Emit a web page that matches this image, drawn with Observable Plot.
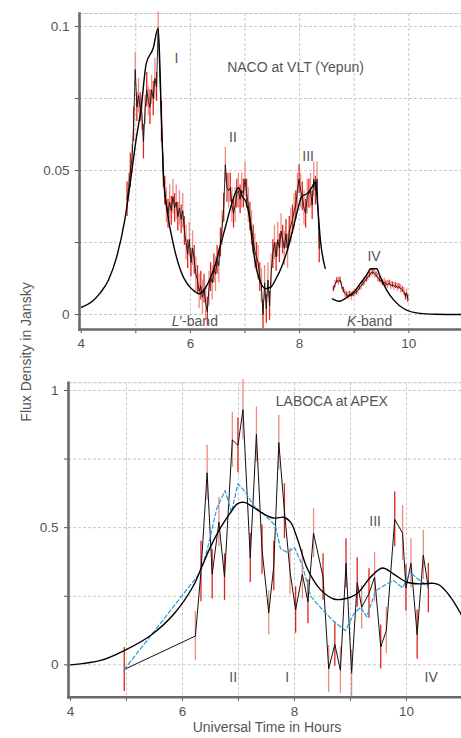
<!DOCTYPE html>
<html><head><meta charset="utf-8">
<script src="https://cdn.jsdelivr.net/npm/d3@7"></script>
<script src="https://cdn.jsdelivr.net/npm/@observablehq/plot@0.6"></script>
<style>
body{margin:0;background:#fff;}
#wrap{position:relative;width:461px;height:738px;overflow:hidden;font-family:"Liberation Sans",Arial,sans-serif;}
#top{position:absolute;left:0;top:0;}
#bot{position:absolute;left:0;top:360px;}
#ylab{position:absolute;left:26px;top:352px;transform:translate(-50%,-50%) rotate(-90deg);font-size:14px;color:#555;white-space:nowrap;}
</style></head><body>
<div id="wrap"><div id="top"></div><div id="bot"></div><div id="ylab">Flux Density in Jansky</div></div>
<script>
// ---------- NACO (top) L'-band data ----------
const naLTime = [4.84,4.87,4.90,4.93,4.96,4.99,5.02,5.05,5.08,5.11,
 5.14,5.17,5.20,5.23,5.26,5.29,5.32,5.35,5.38,5.41,
 5.47,5.50,5.53,5.56,5.59,5.62,5.65,5.68,5.71,5.74,
 5.77,5.80,5.83,5.86,5.89,5.92,5.95,5.98,6.01,6.04,
 6.07,6.10,6.13,6.16,6.19,6.22,6.25,6.28,6.31,6.34,
 6.37,6.40,6.43,6.46,6.49,6.52,6.55,6.58,6.61,6.64,
 6.67,6.70,6.73,6.76,6.79,6.82,6.85,6.88,6.91,6.94,
 6.97,7.00,7.03,7.06,7.09,7.12,7.15,7.18,7.21,7.24,
 7.27,7.30,7.33,7.36,7.39,7.42,7.45,7.48,7.51,7.54,
 7.57,7.60,7.63,7.66,7.69,7.72,7.75,7.78,7.81,7.84,
 7.87,7.90,7.93,7.96,7.99,8.02,8.05,8.08,8.11,8.14,
 8.17,8.20,8.23,8.26,8.29,8.32,8.36];
const naLFlux = [0.040,0.044,0.050,0.054,0.066,0.085,0.072,0.076,0.072,0.070,
 0.060,0.071,0.078,0.074,0.072,0.078,0.075,0.082,0.079,0.099,
 0.067,0.050,0.043,0.038,0.035,0.039,0.036,0.041,0.037,0.039,
 0.034,0.037,0.033,0.036,0.029,0.025,0.021,0.026,0.018,0.023,
 0.019,0.014,0.012,0.008,0.010,0.006,0.009,0.004,0.001,0.009,
 0.013,0.011,0.016,0.014,0.019,0.017,0.025,0.030,0.037,0.052,
 0.044,0.043,0.044,0.038,0.035,0.038,0.042,0.043,0.040,0.043,
 0.042,0.047,0.042,0.038,0.034,0.030,0.026,0.022,0.020,0.018,
 0.013,0.010,0.000,0.011,0.002,0.012,0.003,0.015,0.021,0.025,
 0.020,0.026,0.023,0.029,0.026,0.023,0.028,0.022,0.029,0.031,
 0.033,0.036,0.038,0.043,0.047,0.043,0.041,0.037,0.035,0.041,
 0.042,0.043,0.038,0.047,0.043,0.047,0.023];
const naLErr = [0.006,0.005,0.006,0.005,0.006,0.006,0.005,0.006,0.005,0.006,
 0.006,0.005,0.006,0.005,0.006,0.005,0.006,0.007,0.005,0.006,
 0.007,0.006,0.005,0.006,0.005,0.006,0.005,0.006,0.005,0.006,
 0.005,0.006,0.005,0.006,0.005,0.006,0.005,0.006,0.005,0.006,
 0.005,0.006,0.005,0.006,0.005,0.006,0.005,0.006,0.005,0.006,
 0.005,0.006,0.005,0.006,0.005,0.006,0.005,0.006,0.005,0.006,
 0.005,0.006,0.005,0.006,0.005,0.006,0.005,0.006,0.005,0.006,
 0.005,0.006,0.005,0.006,0.005,0.006,0.005,0.006,0.005,0.006,
 0.005,0.006,0.005,0.006,0.005,0.006,0.005,0.006,0.005,0.006,
 0.005,0.006,0.005,0.006,0.005,0.006,0.005,0.006,0.005,0.006,
 0.005,0.006,0.005,0.006,0.005,0.006,0.005,0.006,0.005,0.006,
 0.005,0.006,0.005,0.006,0.005,0.006,0.005];

// ---------- NACO (top) K-band data ----------
const naKTime = [8.62,8.65,8.68,8.71,8.74,8.77,8.80,8.83,8.86,8.89,
 8.92,8.95,8.98,9.01,9.04,9.07,9.10,9.13,9.16,9.19,
 9.22,9.25,9.28,9.31,9.34,9.37,9.40,9.43,9.46,9.49,
 9.52,9.55,9.58,9.61,9.64,9.67,9.70,9.73,9.76,9.79,
 9.82,9.85,9.88,9.91,9.94,9.96,9.98];
const naKFlux = [0.0089,0.0105,0.0118,0.0115,0.0120,0.0100,0.0085,0.0074,0.0068,0.0066,
 0.0070,0.0064,0.0072,0.0075,0.0078,0.0085,0.0094,0.0100,0.0108,0.0116,
 0.0122,0.0130,0.0137,0.0145,0.0147,0.0143,0.0138,0.0128,0.0121,0.0117,
 0.0110,0.0112,0.0106,0.0104,0.0109,0.0101,0.0103,0.0098,0.0100,0.0094,
 0.0097,0.0090,0.0086,0.0080,0.0062,0.0075,0.0055];
const naKErr = [0.0010,0.0014,0.0010,0.0014,0.0010,0.0014,0.0010,0.0014,0.0010,0.0014,
 0.0010,0.0014,0.0010,0.0014,0.0010,0.0014,0.0010,0.0014,0.0010,0.0014,
 0.0010,0.0014,0.0010,0.0014,0.0010,0.0014,0.0010,0.0014,0.0010,0.0014,
 0.0010,0.0014,0.0010,0.0014,0.0010,0.0014,0.0010,0.0014,0.0010,0.0014,
 0.0010,0.0014,0.0010,0.0014,0.0012,0.0014,0.0012];

// ---------- NACO model curves ----------
const naModelLTime = [4.00,4.20,4.35,4.50,4.65,4.80,4.90,5.00,5.10,5.19,5.32,5.41,5.47,5.51,5.575,5.70,5.82,5.94,6.06,6.15,6.25,6.35,6.45,6.55,6.65,6.75,6.82,6.88,6.95,7.02,7.08,7.14,7.22,7.30,7.38,7.47,7.57,7.67,7.77,7.87,7.96,8.04,8.14,8.22,8.29,8.33,8.38,8.47];
const naModelLFlux = [0.0025,0.0045,0.0075,0.0120,0.0200,0.0330,0.0460,0.0600,0.0720,0.0870,0.0925,0.0995,0.0680,0.0470,0.0360,0.0234,0.0153,0.0107,0.0083,0.0072,0.0085,0.0120,0.0170,0.0240,0.0310,0.0380,0.0420,0.0440,0.0410,0.0390,0.0340,0.0240,0.0150,0.0105,0.0090,0.0095,0.0125,0.0165,0.0220,0.0290,0.0360,0.0410,0.0420,0.0440,0.0460,0.0380,0.0260,0.0160];
const naModelKTime = [8.60,8.72,8.87,8.99,9.11,9.24,9.30,9.41,9.48,9.60,9.73,9.91,10.20,10.50,11.00];
const naModelKFlux = [0.0054,0.0046,0.0060,0.0077,0.0107,0.0141,0.0159,0.0159,0.0130,0.0083,0.0049,0.0020,0.0004,0.0001,0.0000];

// ---------- LABOCA (bottom) data ----------
const laTime = [4.96,6.23,6.33,6.44,6.53,6.65,6.75,6.89,6.99,7.08,7.21,7.32,7.42,7.54,7.63,7.72,7.82,7.92,8.02,8.14,8.24,8.34,8.51,8.61,8.72,8.82,8.92,9.02,9.12,9.20,9.33,9.43,9.54,9.64,9.79,9.93,9.99,10.08,10.19,10.30,10.39];
const laFlux = [-0.017,0.105,0.34,0.70,0.33,0.52,0.32,0.82,0.80,0.93,0.39,0.84,0.42,0.19,0.36,0.81,0.56,0.34,0.20,0.33,0.23,0.48,0.32,-0.015,0.075,-0.02,0.37,-0.03,0.30,0.21,0.26,0.32,0.065,0.125,0.53,0.48,0.28,0.37,0.11,0.40,0.28];
const laErr = [0.08,0.09,0.11,0.10,0.09,0.09,0.085,0.10,0.10,0.11,0.09,0.10,0.09,0.08,0.09,0.10,0.10,0.085,0.085,0.09,0.08,0.09,0.085,0.085,0.08,0.085,0.09,0.085,0.09,0.08,0.09,0.09,0.08,0.085,0.10,0.10,0.085,0.09,0.09,0.09,0.09];
const laSmoothTime = [4.96,6.33,6.46,6.61,6.76,6.875,6.99,7.125,7.27,7.42,7.54,7.66,7.75,7.87,8.00,8.14,8.29,8.51,8.69,8.91,9.06,9.18,9.29,9.45,9.65,9.77,9.93,10.06,10.16,10.39];
const laSmoothFlux = [-0.017,0.34,0.435,0.568,0.635,0.556,0.66,0.629,0.58,0.556,0.532,0.507,0.423,0.41,0.428,0.362,0.25,0.198,0.161,0.125,0.186,0.21,0.175,0.27,0.295,0.307,0.28,0.34,0.32,0.285];
const laModelTime = [4.00,4.54,4.96,5.43,5.85,6.20,6.35,6.50,6.68,6.86,6.98,7.10,7.27,7.45,7.63,7.81,7.93,8.05,8.23,8.46,8.70,8.88,9.12,9.36,9.57,9.77,10.01,10.25,10.49,10.60,10.79,11.00];
const laModelFlux = [0.000,0.016,0.052,0.107,0.186,0.290,0.360,0.430,0.500,0.556,0.587,0.592,0.574,0.550,0.535,0.538,0.520,0.460,0.350,0.275,0.240,0.240,0.260,0.320,0.353,0.331,0.301,0.295,0.297,0.289,0.246,0.175];

// ---------- ticks & labels ----------
const xTicks = [4,5,6,7,8,9,10];
const xTickLabels = ["4","","6","","8","","10"];
const xGrid = [5,6,7,8,9,10];
const topYTicks = [0,0.025,0.05,0.075,0.1];
const topYTickLabels = ["0","","0.05","","0.1"];
const botYTicks = [0,0.25,0.5,0.75,1];
const botYTickLabels = ["0","","0.5","","1"];
const topNotes = [
  {x:5.745,y:0.0889,text:"I"},
  {x:7.925,y:0.0858,text:"NACO at VLT (Yepun)"},
  {x:6.78,y:0.0613,text:"II"},
  {x:8.157,y:0.0547,text:"III"},
  {x:9.363,y:0.0201,text:"IV"}
];
const topBands = [
  {x:5.80,y:-0.0023,ital:"L",rest:"\u2032-band"},
  {x:9.04,y:-0.0023,ital:"K",rest:"-band"}
];
const botNotes = [
  {x:8.666,y:0.958,text:"LABOCA at APEX"},
  {x:9.44,y:0.521,text:"III"},
  {x:6.905,y:-0.047,text:"II"},
  {x:7.87,y:-0.047,text:"I"},
  {x:10.44,y:-0.047,text:"IV"}
];
const xTitle = "Universal Time in Hours";

// ---------- helpers ----------
const rows = (t,f,e,g) => t.map((x,i)=>({t:x,v:f[i],lo:f[i]-e[i],hi:f[i]+e[i],k:i%2,g}));
const pts = (t,f,g) => t.map((x,i)=>({t:x,v:f[i],g}));
const RED = "#e3241b", PINK = "#ef8a81", GRID = "#c8c8c8", AX = "#6a6a6a", TXT = "#555";
const fmt = (ticks, labels) => d => { const i = ticks.findIndex(v => Math.abs(v-d) < 1e-9); return i < 0 ? "" : labels[i]; };
const errMarks = data => [
  Plot.ruleX(data, {filter:d=>d.k===0, x:"t", y1:"lo", y2:"hi", stroke:RED, strokeWidth:1.3}),
  Plot.ruleX(data, {filter:d=>d.k===1, x:"t", y1:"lo", y2:"hi", stroke:PINK, strokeWidth:1.3})
];
const style = {fontFamily:'"Liberation Sans", Arial, sans-serif', fontSize:"13.5px", color:TXT, background:"white", overflow:"visible"};

// ---------- top panel ----------
const naL = rows(naLTime, naLFlux, naLErr, "L");
const naK = rows(naKTime, naKFlux, naKErr, "K");
const naModel = pts(naModelLTime, naModelLFlux, "L").concat(pts(naModelKTime, naModelKFlux, "K"));

const topPlot = Plot.plot({
  width:461, height:360,
  marginLeft:79, marginRight:0, marginTop:13, marginBottom:31,
  x:{domain:[4,11], range:[80.7,462.9], ticks:xTicks, tickFormat:fmt(xTicks,xTickLabels), tickSize:4, tickPadding:5, label:null},
  y:{domain:[-0.0052,0.1045], range:[329,13], ticks:topYTicks, tickFormat:fmt(topYTicks,topYTickLabels), tickSize:4, tickPadding:6, label:null},
  style,
  marks:[
    Plot.ruleX(xGrid, {stroke:GRID, strokeDasharray:"3,2"}),
    Plot.ruleY(topYTicks, {stroke:GRID, strokeDasharray:"3,2"}),
    Plot.frame({anchor:"top", stroke:GRID, strokeDasharray:"3,2"}),
    ...errMarks(naL), ...errMarks(naK),
    Plot.line(naL, {x:"t", y:"v", stroke:"#111", strokeWidth:0.9}),
    Plot.line(naK, {x:"t", y:"v", stroke:"#111", strokeWidth:0.9}),
    Plot.line(naModel, {x:"t", y:"v", z:"g", stroke:"#000", strokeWidth:1.4, curve:"monotone-x"}),
    Plot.text(topNotes, {x:"x", y:"y", text:"text", fontSize:14, fill:TXT}),
    Plot.text(topBands, {x:"x", y:"y", text:"ital", fontSize:14, fill:TXT, fontStyle:"italic", textAnchor:"end"}),
    Plot.text(topBands, {x:"x", y:"y", text:"rest", fontSize:14, fill:TXT, textAnchor:"start"}),
    Plot.frame({anchor:"left", stroke:AX, strokeWidth:2.6}),
    Plot.frame({anchor:"bottom", stroke:AX, strokeWidth:2.6})
  ]
});
document.getElementById("top").append(topPlot);

// ---------- bottom panel ----------
const la = rows(laTime, laFlux, laErr, "d");
const laSmooth = pts(laSmoothTime, laSmoothFlux, "s");
const laModel = pts(laModelTime, laModelFlux, "m");

const botPlot = Plot.plot({
  width:461, height:378,
  marginLeft:68, marginRight:0, marginTop:22.3, marginBottom:41.3,
  x:{domain:[4,11], range:[70,462], ticks:xTicks, tickFormat:fmt(xTicks,xTickLabels), tickSize:4, tickPadding:5, label:null},
  y:{domain:[-0.118,1.028], range:[336.7,22.3], ticks:botYTicks, tickFormat:fmt(botYTicks,botYTickLabels), tickSize:4, tickPadding:6, label:null},
  style,
  marks:[
    Plot.ruleX(xGrid, {stroke:GRID, strokeDasharray:"3,2"}),
    Plot.ruleY(botYTicks, {stroke:GRID, strokeDasharray:"3,2"}),
    Plot.frame({anchor:"top", stroke:GRID, strokeDasharray:"3,2"}),
    ...errMarks(la),
    Plot.line(la, {x:"t", y:"v", stroke:"#111", strokeWidth:1}),
    Plot.line(laSmooth, {x:"t", y:"v", stroke:"#2a9ad4", strokeWidth:1.2, strokeDasharray:"4,2.5"}),
    Plot.line(laModel, {x:"t", y:"v", stroke:"#000", strokeWidth:1.4, curve:"catmull-rom"}),
    Plot.text(botNotes, {x:"x", y:"y", text:"text", fontSize:14, fill:TXT}),
    Plot.text([xTitle], {frameAnchor:"bottom", text:d=>d, dy:34.3, dx:2, fontSize:14, fill:TXT}),
    Plot.frame({anchor:"left", stroke:AX, strokeWidth:2.6}),
    Plot.frame({anchor:"bottom", stroke:AX, strokeWidth:2.6})
  ]
});
document.getElementById("bot").append(botPlot);
</script>
</body></html>
